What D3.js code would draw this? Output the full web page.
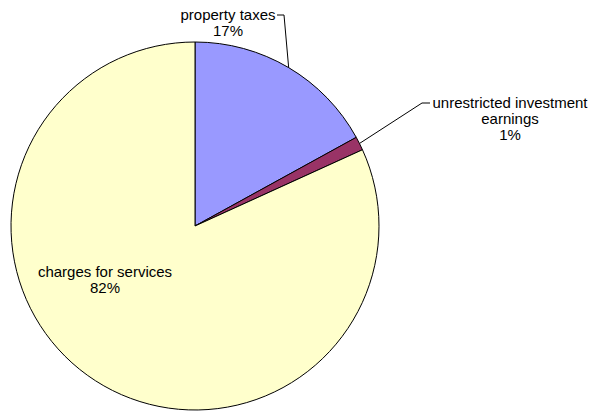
<!DOCTYPE html>
<html>
<head>
    <style>
        body { margin: 0; padding: 0; background: #fff; }
        svg text { font-family: "Liberation Sans", Arial, sans-serif; font-size: 15px; fill: #000; }
    </style>
    <script src="https://d3js.org/d3.v7.min.js"></script>
</head>
<body>
<div id="chart"></div>
<script>
    // data
    var categories = ["property taxes", "unrestricted investment earnings", "charges for services"];
    var values = [17.0, 1.2, 81.8];
    var pctLabels = ["17%", "1%", "82%"];
    var colors = ["#9999FF", "#993366", "#FFFFCC"];

    // label layout: text lines, centre x, first baseline, leader elbow
    var labelLines = [["property taxes", "17%"], ["unrestricted investment", "earnings", "1%"], ["charges for services", "82%"]];
    var labelPos = [[228, 20], [510, 108], [105, 277]];
    var leaders = [[[277, 15], [284, 15]], [[430, 103], [422, 103]], null];

    var W = 592, H = 411;
    var cx = 195, cy = 226, r = 184;

    var svg = d3.select("#chart").append("svg")
        .attr("width", W).attr("height", H);

    var g = svg.append("g").attr("transform", "translate(" + cx + "," + cy + ")");

    var pie = d3.pie().sort(null).value(function(d) { return d; });
    var arc = d3.arc().innerRadius(0).outerRadius(r);
    var arcs = pie(values);

    g.selectAll("path.slice")
        .data(arcs)
        .enter().append("path")
        .attr("class", "slice")
        .attr("d", arc)
        .attr("fill", function(d, i) { return colors[i]; })
        .attr("stroke", "#000")
        .attr("stroke-width", 1)
        .attr("stroke-linejoin", "round");

    // leader lines from mid angle on the rim to the elbow
    arcs.forEach(function(d, i) {
        if (!leaders[i]) return;
        var mid = (d.startAngle + d.endAngle) / 2;
        var px = cx + r * Math.sin(mid), py = cy - r * Math.cos(mid);
        var pts = [leaders[i][0], leaders[i][1], [px, py]];
        svg.append("path")
            .attr("d", d3.line()(pts))
            .attr("fill", "none")
            .attr("stroke", "#000")
            .attr("stroke-width", 1);
    });

    labelLines.forEach(function(lines, i) {
        var t = svg.append("text")
            .attr("text-anchor", "middle")
            .attr("x", labelPos[i][0])
            .attr("y", labelPos[i][1]);
        lines.forEach(function(s, k) {
            t.append("tspan")
                .attr("x", labelPos[i][0])
                .attr("dy", k === 0 ? 0 : 16)
                .text(s);
        });
    });
</script>
</body>
</html>
